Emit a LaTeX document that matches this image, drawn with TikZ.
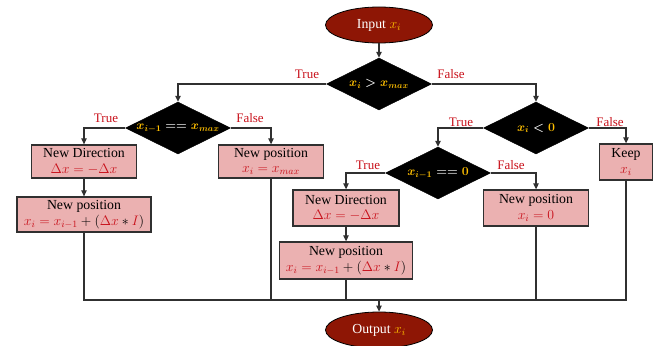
\RequirePackage{fix-cm}
\documentclass[tikz,border=0pt]{standalone}
\usepackage{fontspec}
\setmainfont{Liberation Serif}
\usetikzlibrary{shapes.geometric,arrows.meta}
\definecolor{boxfill}{HTML}{EBB1B1}
\definecolor{ovalfill}{HTML}{8E1605}
\definecolor{labred}{HTML}{C8101A}
\definecolor{gold}{HTML}{FFC000}
\definecolor{edge}{HTML}{303030}
% bold math kept inside its own group
\newcommand{\boldexpr}[1]{{\boldmath$#1$}}

\begin{document}
\begin{tikzpicture}[x=1pt,y=-1pt,
  font=\fontsize{13}{15}\selectfont,
  proc/.style={rectangle, draw=edge, line width=1.3pt, fill=boxfill,
    inner sep=0pt, align=center, font=\fontsize{13.8}{15.5}\selectfont},
  dec/.style={diamond, fill=black, draw=black, inner sep=0pt,
    minimum width=105pt, minimum height=52pt},
  dtext/.style={inner sep=0pt, text=gold, font=\fontsize{12.3}{14}\selectfont},
  term/.style={ellipse, fill=ovalfill, draw=black, line width=0.8pt,
    inner sep=0pt, text=white, minimum width=107pt, minimum height=36pt,
    font=\fontsize{13.8}{16}\selectfont},
  link/.style={draw=edge, line width=1.2pt},
  arr/.style={link, -{Triangle[length=6pt,width=5.5pt]}},
  tag/.style={text=labred, inner sep=0pt}
]
\useasboundingbox (0,0) rectangle (660,345);

% start and end
\node[term] (in) at (379,25) {Input \textcolor{gold}{$x_i$}};
\node[term] (out) at (379,330) {Output \textcolor{gold}{$x_i$}};

% decisions
\node[dec] (d1) at (379,84) {};
\node[dtext] (d1t) at (d1.center) {\boldexpr{x_i \color{white}> \color{gold}x_{max}}};
\node[dec] (d2) at (178,128) {};
\node[dtext] (d2t) at (d2.center) {\boldexpr{x_{i-1} \color{white}\mathrel{==} \color{gold}x_{max}}};
\node[dec] (d3) at (536,128) {};
\node[dtext] (d3t) at (d3.center) {\boldexpr{x_i \color{white}< \color{gold}0}};
\node[dec] (d4) at (438,173) {};
\node[dtext] (d4t) at (d4.center) {\boldexpr{x_{i-1} \color{white}\mathrel{==} \color{gold}0}};

% process boxes
\node[proc, minimum width=105pt, minimum height=33pt] (nd1) at (84,161.5)
  {New Direction\\ \textcolor{labred}{$\Delta x = -\Delta x$}};
\node[proc, minimum width=105pt, minimum height=33pt] (np1) at (271,161.5)
  {New position\\ \textcolor{labred}{$x_i = x_{max}$}};
\node[proc, minimum width=134pt, minimum height=35pt] (np2) at (84,214.5)
  {New position\\ $\textcolor{labred}{x_i = x_{i-1}} + (\textcolor{labred}{\Delta x} * \textcolor{labred}{I})$};
\node[proc, minimum width=53pt, minimum height=36pt] (keep) at (626,162)
  {Keep\\ \textcolor{labred}{$x_i$}};
\node[proc, minimum width=106pt, minimum height=36pt] (nd2) at (346,208)
  {New Direction\\ \textcolor{labred}{$\Delta x = -\Delta x$}};
\node[proc, minimum width=105pt, minimum height=36pt] (np3) at (536,208)
  {New position\\ \textcolor{labred}{$x_i = 0$}};
\node[proc, minimum width=133pt, minimum height=37pt] (np4) at (346,260.5)
  {New position\\ $\textcolor{labred}{x_i = x_{i-1}} + (\textcolor{labred}{\Delta x} * \textcolor{labred}{I})$};

% branch labels
\node[tag] (t1) at (307,74) {True};
\node[tag] (f1) at (451,74) {False};
\node[tag] (t2) at (106,118) {True};
\node[tag] (f2) at (250,118) {False};
\node[tag] (t3) at (461,122) {True};
\node[tag] (f3) at (610,122) {False};
\node[tag] (t4) at (368,165) {True};
\node[tag] (f4) at (511,165) {False};

% flow
\draw[arr] (in) -- (d1);
\draw[arr] (d1.west) -| (d2.north);
\draw[arr] (d1.east) -| (d3.north);
\draw[arr] (d2.west) -| (nd1.north);
\draw[arr] (d2.east) -| (np1.north);
\draw[arr] (nd1) -- (np2);
\draw[arr] (d3.west) -| (d4.north);
\draw[arr] (d3.east) -| (keep.north);
\draw[arr] (d4.west) -| (nd2.north);
\draw[arr] (d4.east) -| (np3.north);
\draw[arr] (nd2) -- (np4);

% collecting bus
\coordinate (busL) at (84,300);
\coordinate (busR) at (626,300);
\draw[link] (np2.south) -- (busL) -- (busR) -- (keep.south);
\draw[link] (np1.south) -- (np1.south |- busL);
\draw[link] (np4.south) -- (np4.south |- busL);
\draw[link] (np3.south) -- (np3.south |- busL);
\draw[arr] (out.north |- busL) -- (out.north);
\end{tikzpicture}
\end{document}
